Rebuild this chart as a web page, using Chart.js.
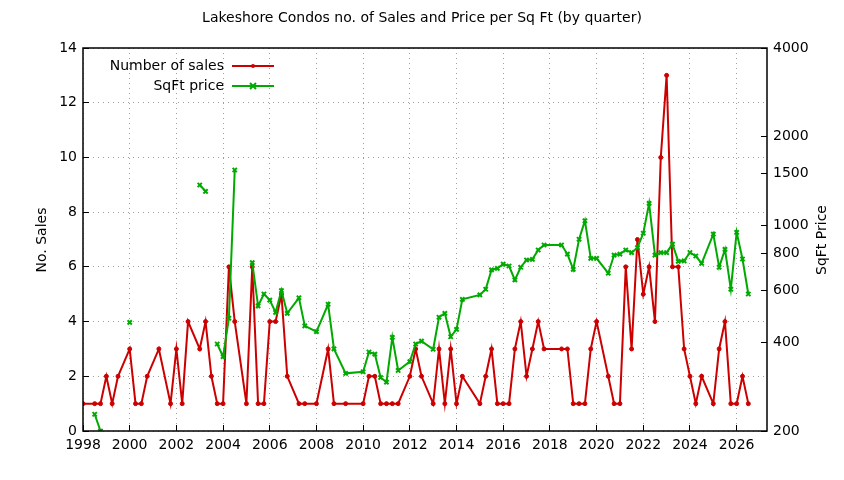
<!DOCTYPE html>
<html><head><meta charset="utf-8">
<script src="https://cdn.jsdelivr.net/npm/chart.js@4/dist/chart.umd.min.js"></script>
<style>html,body{margin:0;padding:0;background:#fff}#c{display:block}</style>
</head><body>
<div style="width:844px;height:480px"><canvas id="c" width="844" height="480"></canvas></div>
<script>
const salesX = [1998,1998.5,1998.75,1999,1999.25,1999.5,2000,2000.25,2000.5,2000.75,2001.25,2001.75,2002,2002.25,2002.5,2003,2003.25,2003.5,2003.75,2004,2004.25,2004.5,2005,2005.25,2005.5,2005.75,2006,2006.25,2006.5,2006.75,2007.25,2007.5,2008,2008.5,2008.75,2009.25,2010,2010.25,2010.5,2010.75,2011,2011.25,2011.5,2012,2012.25,2012.5,2013,2013.25,2013.5,2013.75,2014,2014.25,2015,2015.25,2015.5,2015.75,2016,2016.25,2016.5,2016.75,2017,2017.25,2017.5,2017.75,2018.5,2018.75,2019,2019.25,2019.5,2019.75,2020,2020.5,2020.75,2021,2021.25,2021.5,2021.75,2022,2022.25,2022.5,2022.75,2023,2023.25,2023.5,2023.75,2024,2024.25,2024.5,2025,2025.25,2025.5,2025.75,2026,2026.25,2026.5];
const salesY = [1,1,1,2,1,2,3,1,1,2,3,1,3,1,4,3,4,2,1,1,6,4,1,6,1,1,4,4,5,2,1,1,1,3,1,1,1,2,2,1,1,1,1,2,3,2,1,3,1,3,1,2,1,2,3,1,1,1,3,4,2,3,4,3,3,3,1,1,1,3,4,2,1,1,6,3,7,5,6,4,10,13,6,6,3,2,1,2,1,3,4,1,1,2,1];
// null = gap in the price series
const priceX = [1998.5,1998.75,1999.5,2000,2001.5,2003,2003.25,2003.5,2003.75,2004,2004.25,2004.5,2004.9,2005.25,2005.5,2005.75,2006,2006.25,2006.5,2006.75,2007.25,2007.5,2008,2008.5,2008.75,2009.25,2010,2010.25,2010.5,2010.75,2011,2011.25,2011.5,2012,2012.25,2012.5,2013,2013.25,2013.5,2013.75,2014,2014.25,2015,2015.25,2015.5,2015.75,2016,2016.25,2016.5,2016.75,2017,2017.25,2017.5,2017.75,2018.5,2018.75,2019,2019.25,2019.5,2019.75,2020,2020.5,2020.75,2021,2021.25,2021.5,2021.75,2022,2022.25,2022.5,2022.75,2023,2023.25,2023.5,2023.75,2024,2024.25,2024.5,2025,2025.25,2025.5,2025.75,2026,2026.25,2026.5];
const priceY = [228,200,null,468,null,1370,1304,null,395,358,483,1540,null,746,532,584,557,506,600,502,567,455,435,539,380,314,318,371,365,304,293,416,321,344,395,404,379,487,502,418,443,560,580,606,705,714,738,727,652,720,762,766,824,857,857,798,708,896,1036,772,772,687,792,798,824,807,839,939,1187,792,807,807,863,754,757,808,786,742,933,720,828,606,946,768,584];
const xTicks = [1998,2000,2002,2004,2006,2008,2010,2012,2014,2016,2018,2020,2022,2024,2026];
const yTicks = [0,2,4,6,8,10,12,14];
const y2Ticks = [200,400,600,800,1000,1500,2000,4000];

const FONT = "'DejaVu Sans', sans-serif";
const sales = salesX.map((x,i)=>({x, y: salesY[i]}));
const price = priceX.map((x,i)=>({x, y: priceY[i]}));

const overlay = {
  id:'overlay',
  afterDraw(ch){
    const c = ch.ctx, a = ch.chartArea;
    c.save();
    c.fillStyle='#000';
    c.font = "14px "+FONT;
    c.textAlign='center'; c.textBaseline='middle';
    c.fillText('Lakeshore Condos no. of Sales and Price per Sq Ft (by quarter)', 422, 18);
    c.save(); c.translate(42, 240); c.rotate(-Math.PI/2); c.fillText('No. Sales',0,0); c.restore();
    c.save(); c.translate(822, 240); c.rotate(-Math.PI/2); c.fillText('SqFt Price',0,0); c.restore();
    // border
    c.strokeStyle='#000'; c.lineWidth=1.5;
    c.strokeRect(a.left, a.top, a.right-a.left, a.bottom-a.top);
    // legend
    c.textAlign='right';
    const items=[['Number of sales','#cc0000','circle'],['SqFt price','#00aa00','cross']];
    items.forEach((it,i)=>{
      const y = 66 + i*20;
      c.fillStyle='#000';
      c.fillText(it[0], 224, y);
      c.strokeStyle=it[1]; c.lineWidth=2;
      c.beginPath(); c.moveTo(232,y); c.lineTo(274,y); c.stroke();
      const mx=253;
      if(it[2]==='circle'){ c.fillStyle=it[1]; c.beginPath(); c.arc(mx,y,2,0,Math.PI*2); c.fill(); }
      else { c.beginPath(); c.moveTo(mx-3,y-3); c.lineTo(mx+3,y+3); c.moveTo(mx+3,y-3); c.lineTo(mx-3,y+3); c.stroke(); }
    });
    c.restore();
  }
};

new Chart(document.getElementById('c'), {
  type:'scatter',
  data:{datasets:[
    {label:'Number of sales', data:sales, yAxisID:'y', showLine:true, borderColor:'#cc0000', backgroundColor:'#cc0000', borderWidth:2, pointRadius:2, pointStyle:'circle', pointBorderWidth:1, order:2},
    {label:'SqFt price', data:price, yAxisID:'y2', showLine:true, spanGaps:false, borderColor:'#00aa00', backgroundColor:'#00aa00', borderWidth:2, pointRadius:3, pointStyle:'crossRot', pointBorderWidth:2, order:1}
  ]},
  options:{
    responsive:false, animation:false,
    layout:{padding:{top:48,left:0,right:0,bottom:0}},
    plugins:{legend:{display:false}, tooltip:{enabled:false}},
    scales:{
      x:{type:'linear', min:1998, max:2027.3,
        afterBuildTicks:s=>{s.ticks=xTicks.map(v=>({value:v}));},
        afterFit:s=>{s.height=49;},
        grid:{color:'#a0a0a0', lineWidth:1, drawTicks:true, tickLength:-6, tickColor:'#000', borderDash:[1,4]},
        border:{display:false, dash:[1,4]},
        ticks:{color:'#000', font:{family:FONT,size:14}, padding:12, maxRotation:0, callback:v=>String(v)}},
      y:{type:'linear', position:'left', min:0, max:14,
        afterBuildTicks:s=>{s.ticks=yTicks.map(v=>({value:v}));},
        afterFit:s=>{s.width=83;},
        grid:{color:'#a0a0a0', tickLength:-6, tickColor:'#000'},
        border:{display:false, dash:[1,4]},
        ticks:{color:'#000', font:{family:FONT,size:14}, padding:12}},
      y2:{type:'logarithmic', position:'right', min:200, max:4000,
        afterBuildTicks:s=>{s.ticks=y2Ticks.map(v=>({value:v}));},
        afterFit:s=>{s.width=77;},
        grid:{drawOnChartArea:false, tickLength:-6, tickColor:'#000'},
        border:{display:false},
        ticks:{color:'#000', font:{family:FONT,size:14}, padding:12, callback:v=>String(v)}}
    }
  },
  plugins:[overlay]
});
</script>
</body></html>
